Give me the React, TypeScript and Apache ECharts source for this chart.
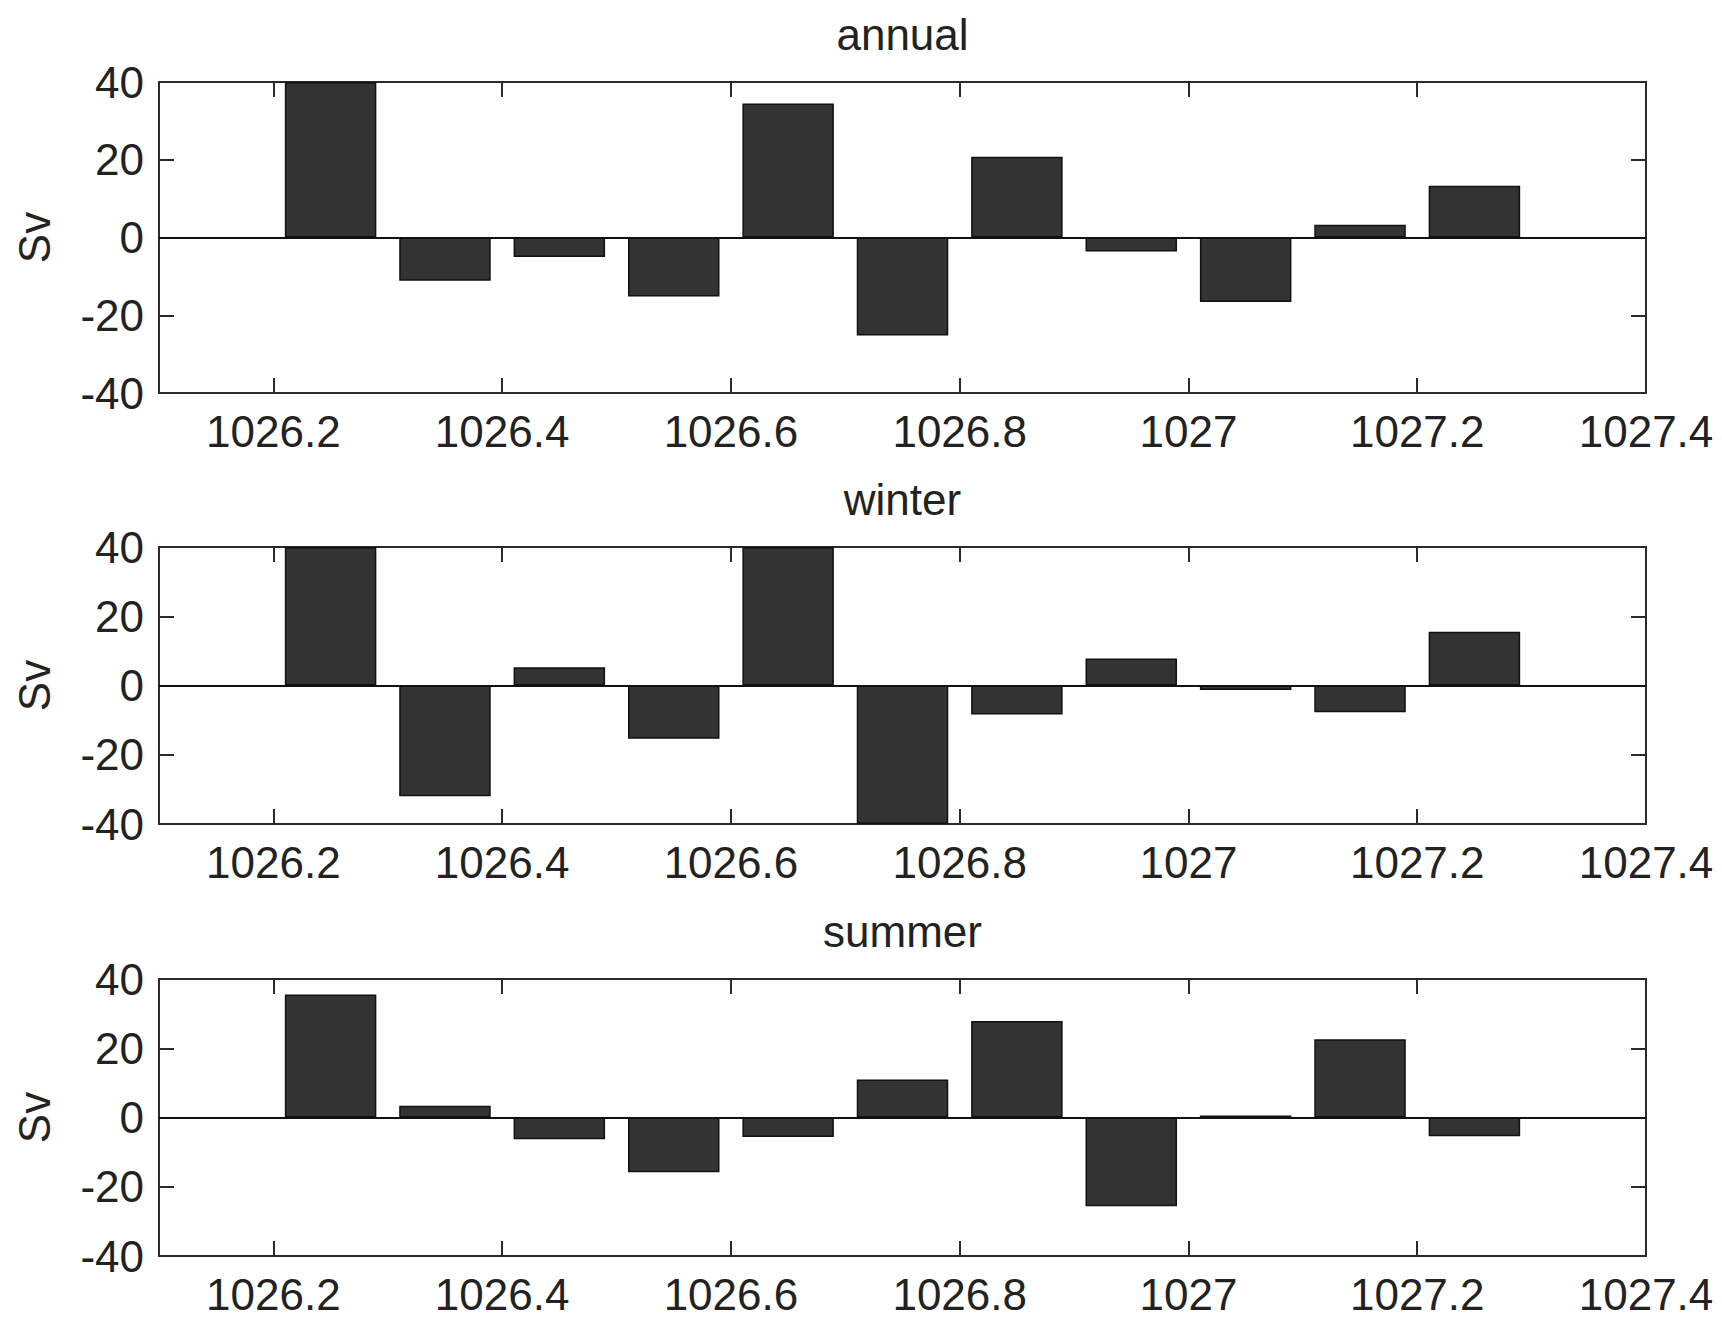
import React, { useEffect, useRef } from "react";
import * as echarts from "echarts";

const xs = [1026.25, 1026.35, 1026.45, 1026.55, 1026.65, 1026.75, 1026.85, 1026.95, 1027.05, 1027.15, 1027.25];
const annual = [40, -11.1, -5.0, -15.2, 34.5, -25.2, 20.8, -3.6, -16.6, 3.3, 13.3];
const winter = [40, -32.0, 5.3, -15.4, 40, -40, -8.4, 7.8, -1.3, -7.7, 15.5];
const summer = [35.5, 3.4, -6.3, -15.8, -5.6, 11.0, 27.9, -25.6, 0.6, 22.6, -5.4];
const titles = ["annual", "winter", "summer"];
const xTicks = [1026.2, 1026.4, 1026.6, 1026.8, 1027, 1027.2, 1027.4];
const yLabel = "Sv";
const X_MIN = 1026.1;
const X_MAX = 1027.4;
const Y_MIN = -40;
const Y_MAX = 40;
const Y_STEP = 20;

const FONT = "'Liberation Sans', Arial, Helvetica, sans-serif";
const INK = "#222222";
const LINE = "#2a2a2a";

export default function App() {
  const ref = useRef<HTMLDivElement>(null);
  useEffect(() => {
    if (!ref.current) return;
    const chart = echarts.init(ref.current, null, { renderer: "svg" });
    const gridLeft = 159;
    const gridW = 1487;
    const grids = [
      { top: 82, height: 311 },
      { top: 547, height: 277 },
      { top: 979, height: 277 },
    ];
    const seriesData = [annual, winter, summer];
    const barW = (gridW * 0.08) / (X_MAX - X_MIN);

    const grid: any[] = [];
    const xAxis: any[] = [];
    const yAxis: any[] = [];
    const series: any[] = [];
    const graphic: any[] = [];

    grids.forEach((g, i) => {
      grid.push({ left: gridLeft, top: g.top, width: gridW, height: g.height, containLabel: false });
      // bottom x axis
      xAxis.push({
        type: "value",
        gridIndex: i,
        min: X_MIN,
        max: X_MAX,
        position: "bottom",
        axisLine: { show: true, onZero: false, lineStyle: { color: LINE, width: 2 } },
        axisTick: { show: true, inside: true, length: 15, customValues: xTicks, lineStyle: { color: LINE, width: 2 } },
        axisLabel: { show: true, customValues: xTicks, margin: 16, fontSize: 44, fontFamily: FONT, color: INK, formatter: (v: number) => String(+v.toFixed(1)) },
        splitLine: { show: false },
      });
      // top x axis (box)
      xAxis.push({
        type: "value",
        gridIndex: i,
        min: X_MIN,
        max: X_MAX,
        position: "top",
        axisLine: { show: true, onZero: false, lineStyle: { color: LINE, width: 2 } },
        axisTick: { show: true, inside: true, length: 15, customValues: xTicks, lineStyle: { color: LINE, width: 2 } },
        axisLabel: { show: false },
        splitLine: { show: false },
      });
      yAxis.push({
        type: "value",
        gridIndex: i,
        min: Y_MIN,
        max: Y_MAX,
        interval: Y_STEP,
        position: "left",
        name: yLabel,
        nameLocation: "middle",
        nameRotate: 90,
        nameGap: 103,
        nameTextStyle: { fontSize: 44, fontFamily: FONT, color: INK },
        axisLine: { show: true, onZero: false, lineStyle: { color: LINE, width: 2 } },
        axisTick: { show: true, inside: true, length: 15, lineStyle: { color: LINE, width: 2 } },
        axisLabel: { show: true, margin: 15, fontSize: 44, fontFamily: FONT, color: INK },
        splitLine: { show: false },
      });
      yAxis.push({
        type: "value",
        gridIndex: i,
        min: Y_MIN,
        max: Y_MAX,
        interval: Y_STEP,
        position: "right",
        axisLine: { show: true, onZero: false, lineStyle: { color: LINE, width: 2 } },
        axisTick: { show: true, inside: true, length: 15, lineStyle: { color: LINE, width: 2 } },
        axisLabel: { show: false },
        splitLine: { show: false },
      });
      series.push({
        type: "bar",
        xAxisIndex: i * 2,
        yAxisIndex: i * 2,
        data: xs.map((x, k) => [x, seriesData[i][k]]),
        barWidth: barW,
        itemStyle: { color: "#333333", borderColor: "#111111", borderWidth: 1.5 },
        clip: true,
        markLine: {
          silent: true,
          symbol: ["none", "none"],
          label: { show: false },
          lineStyle: { color: "#111111", width: 2, type: "solid" },
          data: [{ yAxis: 0 }],
        },
      });
      graphic.push({
        type: "text",
        x: gridLeft + gridW / 2,
        y: g.top - 48,
        style: {
          text: titles[i],
          fontSize: 44,
          fontFamily: FONT,
          fill: INK,
          align: "center",
          verticalAlign: "middle",
        },
      });
    });

    chart.setOption({
      animation: false,
      backgroundColor: "#ffffff",
      grid,
      xAxis,
      yAxis,
      series,
      graphic,
    });
    return () => chart.dispose();
  }, []);
  return (
    <div
      ref={ref}
      style={{ position: "absolute", left: 0, top: 0, width: 1722, height: 1317, background: "#fff" }}
    />
  );
}
